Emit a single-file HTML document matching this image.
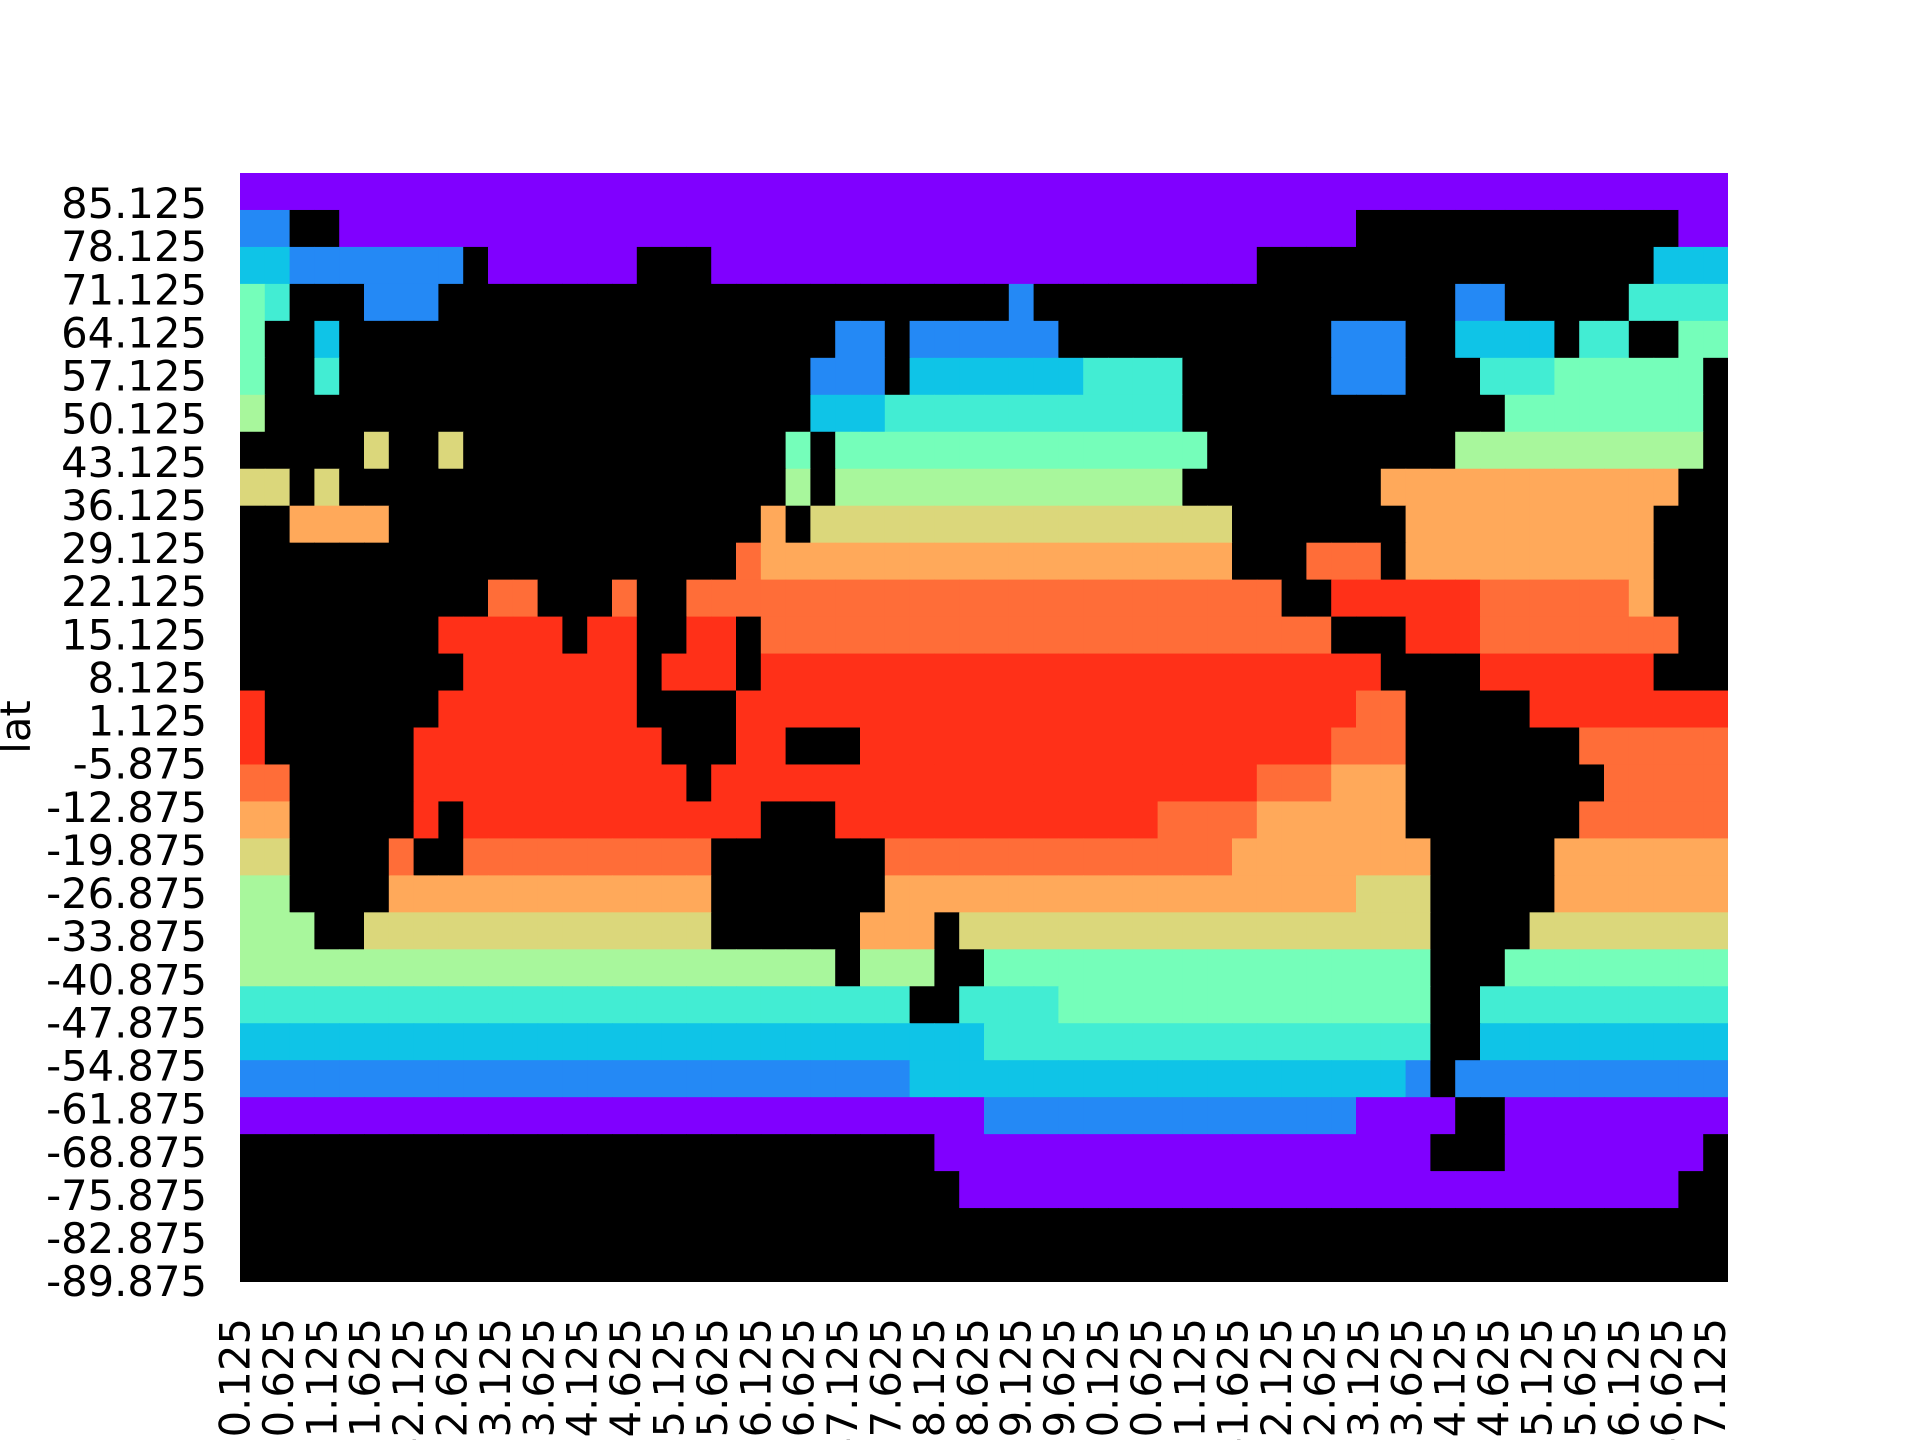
<!DOCTYPE html>
<html>
<head>
<meta charset="utf-8">
<style>
  html, body { margin: 0; padding: 0; background: #ffffff; }
  #chart { display: block; }
  text { font-family: "DejaVu Sans", "Liberation Sans", sans-serif; fill: #000; }
</style>
</head>
<body>
<svg id="chart" width="1920" height="1440" viewBox="0 0 1920 1440" xmlns="http://www.w3.org/2000/svg">
  <rect x="0" y="0" width="1920" height="1440" fill="#ffffff"/>
  <g id="cells"></g>
  <g id="yticks"></g>
  <g id="xticks"></g>
  <text x="0" y="0" transform="translate(30,727) rotate(-90)" text-anchor="middle" font-size="41.7">lat</text>
</svg>
<script>
// Coarse SST grid, run-length encoded: 60 columns (6° lon from 0°E) x 30 rows (6° lat from 90°N down).
// Each run is "symbol:count"; '#' = land (black), digits 0-9 = temperature level (0 ice-cold, 9 warmest).
const sstRows = [
  "0:60",
  "1:2,#:2,0:41,#:13,0:2",
  "2:2,1:7,#:1,0:6,#:3,0:22,#:16,2:3",
  "4:1,3:1,#:3,1:3,#:23,1:1,#:17,1:2,#:5,3:4",
  "4:1,#:2,2:1,#:20,1:2,#:1,1:6,#:11,1:3,#:2,2:4,#:1,3:2,#:2,4:2",
  "4:1,#:2,3:1,#:19,1:3,#:1,2:7,3:4,#:6,1:3,#:3,3:3,4:6,#:1",
  "5:1,#:22,2:3,3:12,#:13,4:8,#:1",
  "#:5,6:1,#:2,6:1,#:13,4:1,#:1,4:15,#:10,5:10,#:1",
  "6:2,#:1,6:1,#:18,5:1,#:1,5:14,#:8,7:12,#:2",
  "#:2,7:4,#:15,7:1,#:1,6:17,#:7,7:10,#:3",
  "#:20,8:1,7:19,#:3,8:3,#:1,7:10,#:3",
  "#:10,8:2,#:3,8:1,#:2,8:24,#:2,9:6,8:6,7:1,#:3",
  "#:8,9:5,#:1,9:2,#:2,9:2,#:1,8:23,#:3,9:3,8:8,#:2",
  "#:9,9:7,#:1,9:3,#:1,9:25,#:4,9:7,#:3",
  "9:1,#:7,9:8,#:4,9:25,8:2,#:5,9:8",
  "9:1,#:6,9:10,#:3,9:2,#:3,9:19,8:3,#:7,8:6",
  "8:2,#:5,9:11,#:1,9:22,8:3,7:3,#:8,8:5",
  "7:2,#:5,9:1,#:1,9:12,#:3,9:13,8:4,7:6,#:7,8:6",
  "6:2,#:4,8:1,#:2,8:10,#:7,8:14,7:8,#:5,7:7",
  "5:2,#:4,7:13,#:7,7:19,6:3,#:5,7:7",
  "5:3,#:2,6:14,#:6,7:3,#:1,6:19,#:4,6:8",
  "5:24,#:1,5:3,#:2,4:18,#:3,4:9",
  "3:27,#:2,3:4,4:15,#:2,3:10",
  "2:30,3:18,#:2,2:10",
  "1:27,2:20,1:1,#:1,1:11",
  "0:30,1:15,0:4,#:2,0:9",
  "#:28,0:20,#:3,0:8,#:1",
  "#:29,0:29,#:2",
  "#:60",
  "#:60"
];
// Temperature level -> colormap position (rainbow colormap)
const levelPositions = [0.0, 0.18, 0.28, 0.38, 0.48, 0.58, 0.68, 0.77, 0.86, 0.94];
// Tick labels
const yTickValues = [85.125, 78.125, 71.125, 64.125, 57.125, 50.125, 43.125, 36.125, 29.125, 22.125, 15.125, 8.125, 1.125, -5.875, -12.875, -19.875, -26.875, -33.875, -40.875, -47.875, -54.875, -61.875, -68.875, -75.875, -82.875, -89.875];
const xTickValues = [0.125, 10.625, 21.125, 31.625, 42.125, 52.625, 63.125, 73.625, 84.125, 94.625, 105.125, 115.625, 126.125, 136.625, 147.125, 157.625, 168.125, 178.625, 189.125, 199.625, 210.125, 220.625, 231.125, 241.625, 252.125, 262.625, 273.125, 283.625, 294.125, 304.625, 315.125, 325.625, 336.125, 346.625, 357.125];

const NS = "http://www.w3.org/2000/svg";
const PL = 240, PR = 1728, PT = 173, PB = 1282;
function xOfLon(lon) { return PL + lon / 360 * (PR - PL); }
function yOfLat(lat) { return PT + (90 - lat) / 180 * (PB - PT); }
function xTick(v) { const j = (v - 0.125) / 0.25; return PL + (j + 0.5) * (PR - PL) / 1440; }
function yTick(v) { const i = (v + 89.875) / 0.25; return PB - (i + 0.5) * (PB - PT) / 720; }

function rainbow(t) {
  const r = Math.min(1, Math.abs(2 * t - 0.5));
  const g = Math.max(0, Math.sin(Math.PI * t));
  const b = Math.max(0, Math.cos(Math.PI * t / 2));
  return "rgb(" + Math.round(r * 255) + "," + Math.round(g * 255) + "," + Math.round(b * 255) + ")";
}

function decodeRow(s) {
  const out = [];
  s.split(",").forEach(function (run) {
    const parts = run.split(":");
    for (let k = 0; k < parseInt(parts[1], 10); k++) out.push(parts[0]);
  });
  return out;
}

const cells = document.getElementById("cells");
const nRows = sstRows.length;
const cellLat = 180 / nRows;
for (let r = 0; r < nRows; r++) {
  const row = decodeRow(sstRows[r]);
  const nCols = 60;
  const cellLon = 360 / nCols;
  const y0 = yOfLat(90 - r * cellLat), y1 = yOfLat(90 - (r + 1) * cellLat);
  for (let c = 0; c < nCols; c++) {
    const ch = c < row.length ? row[c] : "#";
    const x0 = xOfLon(c * cellLon), x1 = xOfLon((c + 1) * cellLon);
    const rect = document.createElementNS(NS, "rect");
    rect.setAttribute("x", x0.toFixed(2));
    rect.setAttribute("y", y0.toFixed(2));
    rect.setAttribute("width", (Math.min(x1 + 0.6, PR) - x0).toFixed(2));
    rect.setAttribute("height", (Math.min(y1 + 0.6, PB) - y0).toFixed(2));
    rect.setAttribute("fill", ch === "#" ? "#000000" : rainbow(levelPositions[parseInt(ch, 10)]));
    
    
    cells.appendChild(rect);
  }
}

const yt = document.getElementById("yticks");
yTickValues.forEach(function (v) {
  const t = document.createElementNS(NS, "text");
  t.setAttribute("x", "207");
  t.setAttribute("y", (yTick(v) + 15).toFixed(1));
  t.setAttribute("text-anchor", "end");
  t.setAttribute("font-size", "41.7");
  t.textContent = String(v.toFixed(3));
  
  
  yt.appendChild(t);
});

const xt = document.getElementById("xticks");
xTickValues.forEach(function (v) {
  const t = document.createElementNS(NS, "text");
  const x = xTick(v);
  t.setAttribute("x", "0");
  t.setAttribute("y", "0");
  t.setAttribute("transform", "translate(" + (x + 9).toFixed(1) + ",1318) rotate(-90)");
  t.setAttribute("text-anchor", "end");
  t.setAttribute("font-size", "41.7");
  t.textContent = String(v.toFixed(3));
  
  
  xt.appendChild(t);
});
</script>
</body>
</html>
